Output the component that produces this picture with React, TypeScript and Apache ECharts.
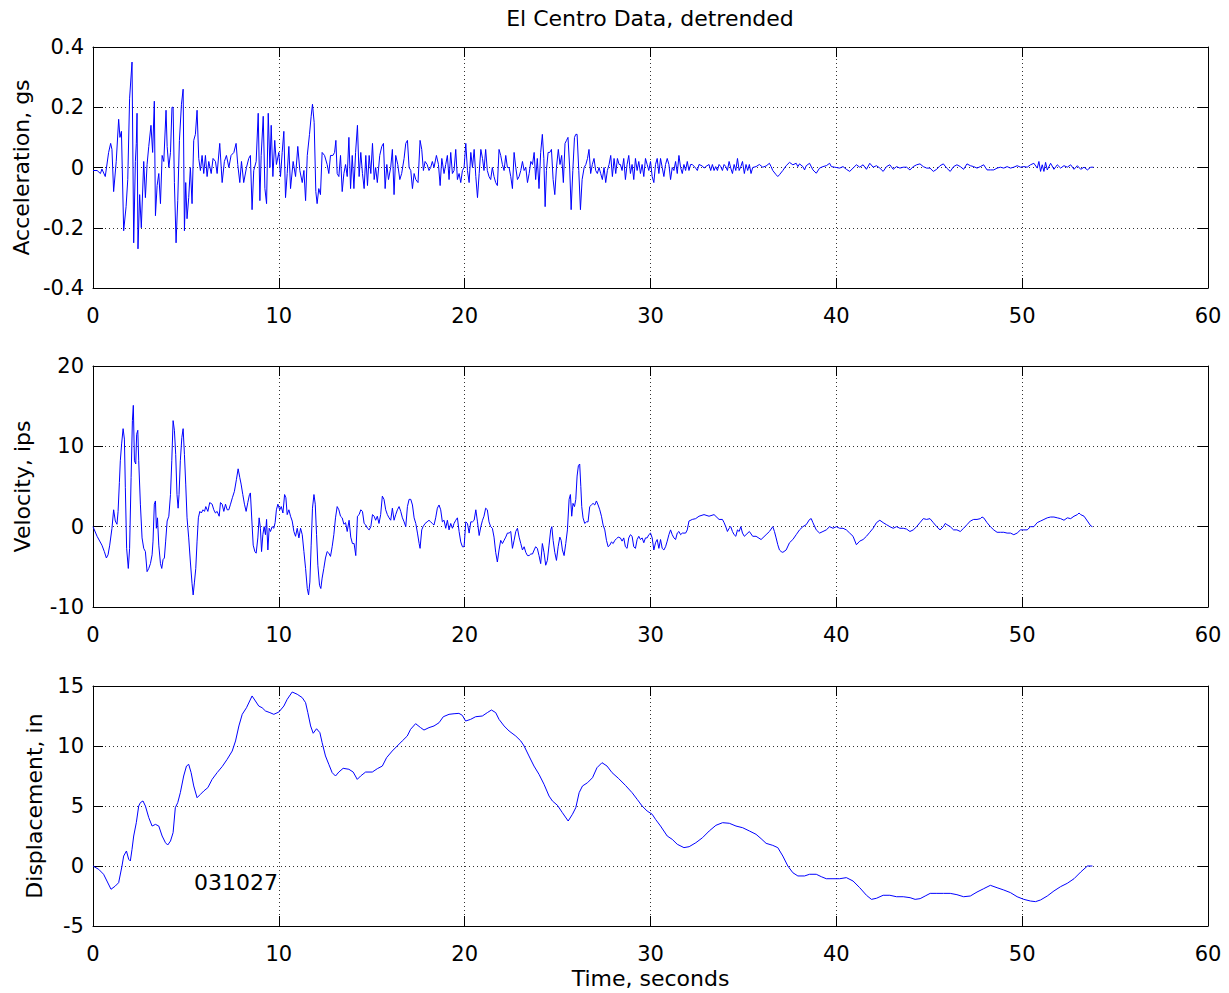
import React, { useEffect, useRef } from "react";
import * as echarts from "echarts";

// El Centro record, detrended. Each point is [time in seconds, value].
const TIME_AXIS = { min: 0, max: 60, interval: 10 };

const accelerationGs: [number, number][] = [
  [0, -0.01], [0.22, -0.01], [0.4, -0.02], [0.48, -0.005], [0.66, -0.03], [0.84, 0.05], [0.95, 0.08], [1.02, 0.06],
  [1.11, -0.08], [1.25, 0.02], [1.38, 0.16], [1.45, 0.1], [1.53, 0.12], [1.65, -0.21], [1.78, -0.13], [1.87, -0.04],
  [1.97, 0.23], [2.1, 0.35], [2.19, -0.25], [2.28, 0.02], [2.33, 0.08], [2.37, 0.18], [2.42, -0.27], [2.51, -0.09],
  [2.6, -0.2], [2.73, 0.02], [2.82, -0.1], [2.91, 0.01], [3.0, 0.07], [3.12, 0.14], [3.21, 0.05], [3.3, 0.22],
  [3.36, -0.16], [3.45, -0.06], [3.54, -0.02], [3.63, -0.12], [3.72, 0.04], [3.81, 0.02], [3.93, 0.19], [3.99, 0.07],
  [4.08, 0.0], [4.17, 0.05], [4.25, 0.2], [4.31, 0.2], [4.38, -0.05], [4.47, -0.25], [4.56, -0.11], [4.65, 0.09],
  [4.76, 0.21], [4.85, 0.26], [4.92, -0.21], [4.99, -0.05], [5.06, -0.17], [5.15, -0.1], [5.24, 0.0], [5.33, -0.12],
  [5.42, 0.09], [5.51, 0.11], [5.6, 0.19], [5.69, 0.03], [5.78, -0.01], [5.87, 0.04], [5.96, -0.02], [6.05, 0.04],
  [6.14, -0.03], [6.23, 0.02], [6.36, -0.02], [6.46, 0.03], [6.59, 0.02], [6.68, -0.02], [6.82, 0.08], [6.95, -0.05],
  [7.07, 0.02], [7.18, 0.04], [7.31, 0.0], [7.43, 0.04], [7.58, 0.05], [7.7, 0.08], [7.79, 0.01], [7.9, -0.05],
  [7.99, 0.02], [8.11, -0.05], [8.26, 0.0], [8.38, 0.03], [8.47, 0.04], [8.56, -0.14], [8.65, -0.01], [8.78, 0.02],
  [8.89, 0.18], [8.98, -0.11], [9.05, 0.04], [9.16, 0.17], [9.25, -0.07], [9.34, -0.12], [9.43, 0.18], [9.52, 0.0],
  [9.59, 0.14], [9.68, -0.03], [9.78, 0.09], [9.87, 0.01], [10.0, 0.05], [10.09, -0.03], [10.18, 0.05], [10.27, 0.12],
  [10.36, -0.1], [10.45, -0.02], [10.54, 0.07], [10.63, -0.07], [10.77, 0.02], [10.9, -0.03], [11.02, 0.07], [11.13, -0.01],
  [11.26, -0.05], [11.35, -0.01], [11.44, -0.11], [11.53, 0.04], [11.65, 0.11], [11.74, 0.17], [11.81, 0.21], [11.9, 0.15],
  [11.99, -0.08], [12.06, -0.12], [12.15, -0.07], [12.24, -0.09], [12.33, 0.05], [12.46, 0.04], [12.6, 0.01], [12.69, -0.02],
  [12.78, 0.04], [12.91, 0.04], [13.0, 0.05], [13.07, 0.09], [13.14, -0.02], [13.23, -0.03], [13.32, 0.04], [13.41, -0.08],
  [13.5, -0.02], [13.59, 0.01], [13.68, -0.03], [13.77, 0.1], [13.86, -0.07], [13.95, 0.04], [14.04, -0.07], [14.13, 0.05],
  [14.23, 0.14], [14.32, -0.03], [14.41, 0.05], [14.5, -0.02], [14.59, -0.07], [14.68, 0.04], [14.77, -0.06], [14.86, 0.04],
  [14.95, -0.02], [15.04, 0.08], [15.13, -0.04], [15.21, 0.0], [15.3, -0.05], [15.43, 0.04], [15.54, 0.07], [15.63, 0.08],
  [15.72, -0.07], [15.81, 0.01], [15.9, -0.04], [16.02, 0.0], [16.11, 0.06], [16.2, -0.09], [16.29, 0.04], [16.4, 0.01],
  [16.51, -0.04], [16.61, -0.02], [16.74, 0.03], [16.83, 0.08], [16.92, 0.09], [17.01, 0.0], [17.1, -0.01], [17.19, -0.07],
  [17.28, -0.02], [17.37, -0.04], [17.49, -0.05], [17.6, 0.09], [17.69, 0.06], [17.78, -0.01], [17.87, 0.02], [17.98, 0.01],
  [18.08, -0.01], [18.17, 0.0], [18.26, 0.02], [18.35, 0.0], [18.48, 0.04], [18.59, 0.01], [18.68, -0.06], [18.77, 0.03],
  [18.89, -0.02], [18.98, 0.01], [19.07, 0.04], [19.16, -0.04], [19.25, 0.05], [19.34, -0.02], [19.43, -0.01], [19.52, 0.06],
  [19.61, -0.04], [19.7, -0.02], [19.79, -0.05], [19.88, -0.01], [19.97, 0.0], [20.06, 0.08], [20.15, -0.01], [20.24, -0.05],
  [20.33, 0.05], [20.42, 0.0], [20.51, 0.06], [20.6, -0.03], [20.69, -0.1], [20.78, -0.02], [20.87, 0.06], [20.96, 0.03],
  [21.04, -0.01], [21.13, 0.06], [21.22, -0.01], [21.31, -0.03], [21.4, -0.04], [21.49, 0.0], [21.58, -0.03], [21.67, -0.05],
  [21.76, -0.06], [21.85, 0.06], [21.94, 0.04], [22.03, 0.01], [22.12, -0.01], [22.21, 0.04], [22.3, 0.0], [22.39, 0.0],
  [22.48, -0.03], [22.57, -0.07], [22.66, 0.05], [22.75, 0.0], [22.84, -0.04], [22.93, -0.03], [23.02, -0.01], [23.11, 0.02],
  [23.2, -0.01], [23.29, 0.0], [23.38, -0.05], [23.47, -0.02], [23.56, 0.02], [23.65, 0.01], [23.74, 0.05], [23.82, -0.04],
  [23.91, 0.03], [24.0, -0.07], [24.09, 0.05], [24.18, 0.11], [24.26, 0.03], [24.33, -0.13], [24.4, -0.01], [24.49, 0.05],
  [24.58, 0.05], [24.67, 0.06], [24.76, -0.04], [24.85, -0.09], [24.94, 0.0], [25.04, 0.06], [25.13, 0.01], [25.22, 0.04],
  [25.31, -0.05], [25.4, 0.08], [25.48, 0.09], [25.56, 0.1], [25.65, 0.0], [25.73, -0.14], [25.82, -0.01], [25.91, 0.1],
  [25.98, 0.11], [26.05, 0.11], [26.14, -0.01], [26.23, -0.14], [26.32, -0.04], [26.43, 0.0], [26.52, 0.01], [26.61, 0.03],
  [26.69, 0.06], [26.78, -0.02], [26.87, 0.01], [26.96, 0.03], [27.05, -0.01], [27.14, -0.02], [27.23, 0.0], [27.32, -0.02],
  [27.41, -0.04], [27.5, 0.0], [27.59, -0.05], [27.68, -0.01], [27.77, 0.01], [27.86, 0.04], [27.95, -0.03], [28.04, 0.03],
  [28.13, -0.02], [28.22, 0.03], [28.31, 0.01], [28.38, 0.01], [28.47, -0.01], [28.56, 0.03], [28.65, -0.04], [28.74, 0.01],
  [28.83, 0.04], [28.92, -0.02], [29.01, 0.01], [29.1, -0.04], [29.19, 0.03], [29.28, -0.01], [29.37, 0.02], [29.46, -0.02],
  [29.55, 0.01], [29.64, -0.03], [29.73, 0.03], [29.82, 0.01], [29.91, -0.01], [30.0, 0.02], [30.09, -0.03], [30.18, -0.05],
  [30.27, 0.01], [30.36, 0.03], [30.45, -0.02], [30.54, 0.03], [30.63, 0.0], [30.72, -0.03], [30.81, 0.01], [30.9, 0.03],
  [30.99, 0.01], [31.08, -0.04], [31.17, 0.0], [31.26, -0.01], [31.35, 0.02], [31.44, -0.02], [31.53, 0.04], [31.62, 0.0],
  [31.71, -0.02], [31.8, 0.01], [31.89, -0.01], [31.98, 0.02], [32.07, -0.01], [32.16, 0.01], [32.25, 0.01], [32.43, -0.002],
  [32.52, -0.01], [32.61, 0.01], [32.79, 0.005], [32.88, -0.002], [32.97, 0.003], [33.15, 0.01], [33.24, -0.01], [33.33, 0.01],
  [33.42, -0.01], [33.51, 0.003], [33.6, -0.01], [33.69, 0.01], [33.78, 0.003], [33.87, -0.01], [33.96, 0.01], [34.05, 0.003],
  [34.14, -0.01], [34.23, 0.02], [34.32, -0.002], [34.41, -0.02], [34.5, 0.01], [34.59, -0.01], [34.68, 0.03], [34.77, -0.01],
  [34.86, 0.003], [34.95, 0.02], [35.05, -0.02], [35.14, 0.01], [35.23, -0.01], [35.32, 0.01], [35.41, -0.02], [35.5, 0.0],
  [35.68, 0.003], [35.86, 0.01], [36.04, 0.001], [36.22, 0.005], [36.4, 0.014], [36.49, 0.003], [36.58, -0.01], [36.76, -0.024],
  [36.85, -0.03], [36.94, -0.024], [37.12, -0.01], [37.3, 0.006], [37.48, 0.017], [37.66, 0.009], [37.84, 0.014], [37.93, 0.003],
  [38.02, 0.012], [38.2, 0.003], [38.29, -0.008], [38.38, 0.006], [38.56, 0.014], [38.74, -0.008], [38.92, -0.019], [39.1, -0.002],
  [39.28, 0.003], [39.46, 0.006], [39.64, 0.014], [39.73, 0.003], [39.91, 0.001], [40.18, -0.002], [40.36, 0.003], [40.54, -0.006],
  [40.72, -0.013], [40.9, -0.002], [41.08, 0.009], [41.26, 0.001], [41.44, 0.009], [41.62, -0.006], [41.8, 0.014], [41.98, 0.001],
  [42.16, 0.006], [42.34, -0.002], [42.52, -0.013], [42.7, 0.003], [42.88, 0.009], [43.06, -0.006], [43.24, 0.003], [43.42, -0.002],
  [43.6, 0.001], [43.78, 0.001], [43.96, -0.008], [44.14, 0.003], [44.32, 0.009], [44.5, 0.012], [44.68, 0.003], [44.86, -0.002],
  [45.04, -0.002], [45.22, -0.013], [45.4, -0.006], [45.58, 0.006], [45.76, 0.012], [45.94, -0.002], [46.13, -0.013], [46.31, 0.003],
  [46.49, 0.009], [46.67, 0.003], [46.85, -0.006], [47.03, 0.012], [47.21, 0.006], [47.39, 0.003], [47.57, -0.002], [47.75, 0.003],
  [47.93, 0.009], [48.11, -0.008], [48.29, -0.008], [48.47, -0.008], [48.65, -0.002], [48.83, 0.001], [49.01, -0.002], [49.19, 0.003],
  [49.37, -0.002], [49.55, 0.001], [49.73, 0.006], [49.91, 0.001], [50.09, 0.003], [50.27, 0.001], [50.45, 0.009], [50.63, 0.014],
  [50.81, -0.002], [50.9, 0.02], [50.99, -0.013], [51.08, 0.009], [51.17, -0.013], [51.26, 0.017], [51.35, -0.008], [51.53, 0.014],
  [51.71, -0.006], [51.89, 0.009], [52.07, -0.002], [52.25, 0.006], [52.43, 0.001], [52.61, 0.009], [52.79, -0.006], [52.97, 0.006],
  [53.15, -0.006], [53.33, 0.001], [53.51, -0.008], [53.69, 0.001], [53.84, 0.001],
];

const velocityIps: [number, number][] = [
  [0, 0], [0.22, -1.2], [0.48, -2.3], [0.61, -3.1], [0.72, -3.9], [0.81, -3.5], [0.9, -2.3], [1.02, -0.2],
  [1.11, 2.1], [1.2, 0.7], [1.29, 0.3], [1.35, 1.9], [1.42, 5.5], [1.47, 8.2], [1.54, 10.3], [1.62, 12.2],
  [1.69, 10.9], [1.74, 4.9], [1.81, -2.7], [1.9, -5.2], [1.97, -2.7], [2.05, 6.1], [2.12, 13.2], [2.17, 15.1],
  [2.23, 8.2], [2.3, 7.8], [2.35, 11.5], [2.41, 12.0], [2.46, 8.2], [2.55, 2.8], [2.64, -1.4], [2.73, -2.7],
  [2.82, -3.1], [2.91, -5.6], [3.0, -5.2], [3.09, -4.6], [3.18, -3.5], [3.23, -1.8], [3.3, 2.8], [3.36, 3.2],
  [3.41, -0.2], [3.47, 1.1], [3.54, -2.3], [3.63, -4.6], [3.7, -5.2], [3.77, -4.1], [3.84, -3.9], [3.91, -1.8],
  [3.99, 0.7], [4.08, 1.3], [4.17, 4.0], [4.24, 8.2], [4.31, 13.2], [4.38, 12.0], [4.45, 9.0], [4.52, 4.0],
  [4.58, 2.3], [4.63, 4.0], [4.7, 8.2], [4.78, 11.1], [4.85, 12.2], [4.92, 9.0], [4.99, 5.3], [5.06, 1.1],
  [5.15, -1.4], [5.24, -4.4], [5.33, -7.1], [5.39, -8.5], [5.46, -6.9], [5.53, -5.2], [5.6, -1.8], [5.67, 1.1],
  [5.75, 1.9], [5.83, 1.7], [5.92, 2.1], [6.0, 1.9], [6.07, 2.5], [6.18, 1.9], [6.28, 3.0], [6.41, 2.8],
  [6.5, 2.1], [6.59, 1.7], [6.68, 1.9], [6.79, 1.3], [6.86, 3.0], [6.95, 2.8], [7.04, 1.9], [7.13, 2.8],
  [7.22, 2.1], [7.31, 2.1], [7.4, 2.8], [7.5, 3.6], [7.61, 4.4], [7.72, 5.9], [7.81, 7.2], [7.9, 6.1],
  [7.97, 5.3], [8.06, 4.0], [8.15, 2.8], [8.24, 1.9], [8.33, 3.0], [8.42, 4.0], [8.47, 4.2], [8.55, 0.7],
  [8.62, -2.3], [8.71, -3.1], [8.78, -3.3], [8.87, -1.4], [8.94, 1.1], [9.01, -0.2], [9.07, -3.1], [9.14, -1.0],
  [9.21, 0.0], [9.28, -1.0], [9.34, 0.9], [9.41, -2.9], [9.48, -0.2], [9.55, -0.6], [9.64, 0.0], [9.73, -0.2],
  [9.8, 0.5], [9.87, 2.1], [9.95, 2.8], [10.05, 2.1], [10.13, 2.5], [10.22, 1.7], [10.31, 4.0], [10.38, 3.6],
  [10.45, 1.5], [10.54, 2.1], [10.63, 1.3], [10.72, 0.7], [10.81, -0.6], [10.9, -1.2], [10.99, -0.2], [11.08, -1.4],
  [11.17, -0.2], [11.26, -1.0], [11.35, -3.1], [11.44, -5.2], [11.53, -7.7], [11.6, -8.5], [11.67, -6.9], [11.74, -2.3],
  [11.81, 2.3], [11.89, 4.0], [11.96, 2.8], [12.03, -1.0], [12.1, -4.8], [12.19, -7.3], [12.26, -7.7], [12.33, -6.4],
  [12.42, -5.2], [12.51, -3.9], [12.6, -3.1], [12.69, -3.3], [12.78, -3.7], [12.87, -2.5], [12.96, -1.0], [13.05, 1.1],
  [13.14, 2.5], [13.23, 2.1], [13.32, 1.3], [13.41, 1.1], [13.5, 0.3], [13.59, 0.5], [13.68, -0.6], [13.78, 0.8],
  [13.87, -1.3], [13.96, -2.1], [14.05, -2.1], [14.14, -3.6], [14.23, 1.3], [14.32, 1.5], [14.41, 2.1], [14.5, 1.9],
  [14.59, 0.4], [14.68, 0.2], [14.77, -0.2], [14.86, -0.4], [14.95, 0.0], [15.04, 1.5], [15.13, 1.3], [15.21, 0.8],
  [15.3, 1.3], [15.39, 0.4], [15.48, 1.5], [15.57, 3.8], [15.66, 3.4], [15.75, 2.1], [15.84, 1.5], [15.93, 1.1],
  [16.02, 0.8], [16.11, 2.3], [16.2, 0.8], [16.29, 1.5], [16.38, 2.1], [16.47, 2.5], [16.56, 1.9], [16.65, 1.1],
  [16.74, 0.6], [16.83, 0.0], [16.92, 2.5], [17.01, 3.4], [17.1, 3.4], [17.19, 2.7], [17.28, 1.1], [17.37, 0.4],
  [17.46, -0.8], [17.55, -2.1], [17.6, -2.7], [17.69, -0.4], [17.76, 0.0], [17.87, 0.4], [17.98, 0.6], [18.08, 0.8],
  [18.17, 0.6], [18.26, 0.4], [18.35, 0.2], [18.44, 1.1], [18.53, 2.3], [18.62, 2.7], [18.71, 2.1], [18.8, 0.6],
  [18.89, 0.8], [18.98, -0.2], [19.07, 0.8], [19.16, -0.4], [19.25, 0.4], [19.34, -0.2], [19.43, 0.4], [19.52, 0.8],
  [19.61, 1.1], [19.7, -0.6], [19.79, -1.9], [19.88, -2.5], [19.97, -2.5], [20.06, 0.6], [20.15, 0.4], [20.24, -0.8],
  [20.33, 0.6], [20.42, 0.6], [20.51, 0.8], [20.6, 2.1], [20.69, 0.6], [20.78, -1.1], [20.87, 0.0], [20.96, 0.8],
  [21.04, 1.3], [21.13, 2.3], [21.22, 2.1], [21.31, 0.6], [21.4, 0.0], [21.49, -0.2], [21.58, -1.3], [21.67, -3.2],
  [21.76, -4.4], [21.85, -2.9], [21.94, -1.7], [22.03, -2.1], [22.12, -1.7], [22.21, -1.3], [22.3, -0.8], [22.39, -0.8],
  [22.48, -0.6], [22.57, -2.7], [22.66, -1.7], [22.75, -0.6], [22.84, -0.2], [22.93, -1.3], [23.02, -2.1], [23.11, -2.9],
  [23.2, -2.5], [23.29, -3.2], [23.38, -3.6], [23.47, -3.6], [23.56, -3.4], [23.65, -3.4], [23.74, -2.9], [23.82, -2.5],
  [23.91, -2.7], [24.0, -3.6], [24.09, -4.6], [24.18, -2.1], [24.27, -3.2], [24.36, -4.8], [24.45, -4.2], [24.54, -2.3],
  [24.63, -0.4], [24.69, 0.0], [24.76, -1.7], [24.85, -3.2], [24.94, -4.2], [25.03, -2.5], [25.12, -1.3], [25.19, -1.7],
  [25.26, -2.9], [25.35, -3.6], [25.44, -2.1], [25.53, -0.4], [25.62, 3.4], [25.69, 4.0], [25.76, 1.3], [25.83, 2.9],
  [25.91, 2.5], [25.98, 3.4], [26.05, 6.3], [26.12, 7.6], [26.19, 7.8], [26.25, 5.0], [26.3, 2.5], [26.37, 1.1],
  [26.46, 0.4], [26.55, 0.6], [26.64, 0.6], [26.73, 2.5], [26.82, 2.7], [26.91, 2.9], [27.0, 2.7], [27.09, 3.2],
  [27.18, 2.7], [27.27, 2.1], [27.36, 1.3], [27.45, 0.2], [27.54, -0.4], [27.63, -1.7], [27.72, -2.5], [27.81, -2.3],
  [27.9, -1.9], [27.99, -2.1], [28.08, -1.7], [28.17, -1.5], [28.26, -1.3], [28.38, -1.4], [28.47, -1.8], [28.56, -1.4],
  [28.65, -2.5], [28.74, -2.7], [28.83, -1.4], [28.92, -1.0], [29.01, -1.2], [29.1, -2.5], [29.19, -2.7], [29.28, -1.6],
  [29.37, -1.2], [29.46, -1.6], [29.55, -1.4], [29.64, -2.0], [29.73, -1.4], [29.82, -1.4], [29.91, -1.0], [30.0, -0.8],
  [30.09, -1.4], [30.18, -2.9], [30.27, -2.0], [30.36, -1.6], [30.45, -2.7], [30.54, -1.6], [30.63, -2.7], [30.72, -2.9],
  [30.81, -2.5], [30.9, -1.8], [30.99, -1.0], [31.08, -0.4], [31.17, -1.0], [31.26, -1.4], [31.35, -1.6], [31.44, -0.8],
  [31.53, -0.6], [31.62, -1.0], [31.71, -0.8], [31.89, -0.8], [31.98, -0.4], [32.07, 0.7], [32.25, 0.9], [32.43, 1.0],
  [32.61, 1.3], [32.88, 1.5], [33.15, 1.3], [33.42, 1.5], [33.69, 0.9], [33.87, 0.9], [33.96, 0.5], [34.05, 0.0],
  [34.14, -0.6], [34.23, -0.2], [34.32, 0.0], [34.41, -0.6], [34.5, -1.0], [34.59, -1.2], [34.68, -0.4], [34.77, -0.6],
  [34.86, 0.0], [34.95, -0.8], [35.05, -1.2], [35.14, -1.0], [35.32, -0.6], [35.5, -1.2], [35.68, -1.2], [35.95, -1.6],
  [36.22, -1.0], [36.4, -0.6], [36.58, 0.0], [36.67, -0.6], [36.76, -1.4], [36.85, -2.25], [36.94, -2.9], [37.03, -3.1],
  [37.12, -3.2], [37.3, -2.9], [37.48, -2.0], [37.66, -1.6], [37.84, -1.0], [38.02, -0.4], [38.2, 0.0], [38.38, 0.25],
  [38.56, 0.9], [38.65, 1.0], [38.74, 0.5], [38.92, -0.4], [39.1, -0.8], [39.28, -0.6], [39.46, -0.4], [39.64, 0.0],
  [39.82, -0.2], [40.0, 0.0], [40.18, -0.2], [40.36, -0.2], [40.54, -0.4], [40.72, -0.8], [40.9, -1.2], [41.08, -2.25],
  [41.26, -1.8], [41.44, -1.6], [41.62, -1.2], [41.8, -0.7], [41.98, -0.2], [42.16, 0.5], [42.34, 0.8], [42.52, 0.5],
  [42.7, 0.25], [42.88, 0.0], [43.06, -0.2], [43.24, 0.0], [43.42, -0.2], [43.6, -0.2], [43.78, -0.3], [43.96, -0.6],
  [44.14, -0.4], [44.32, 0.0], [44.5, 0.5], [44.68, 1.0], [44.86, 0.9], [45.04, 1.0], [45.22, 0.5], [45.4, 0.0],
  [45.58, -0.4], [45.76, 0.0], [45.86, 0.4], [45.95, 0.25], [46.13, 0.0], [46.31, -0.4], [46.49, -0.4], [46.67, -0.6],
  [46.85, -0.2], [47.03, 0.25], [47.21, 0.7], [47.39, 0.9], [47.57, 0.9], [47.75, 1.0], [47.84, 1.2], [47.93, 1.1],
  [48.11, 0.5], [48.29, 0.0], [48.47, -0.4], [48.65, -0.7], [48.83, -0.7], [49.01, -0.7], [49.19, -0.8], [49.37, -0.8],
  [49.55, -1.0], [49.73, -0.8], [49.91, -0.4], [50.09, -0.4], [50.27, -0.4], [50.45, 0.0], [50.63, 0.0], [50.81, 0.5],
  [50.99, 0.7], [51.17, 0.9], [51.35, 1.1], [51.53, 1.2], [51.71, 1.2], [51.89, 1.1], [52.07, 1.0], [52.25, 0.8],
  [52.43, 1.1], [52.61, 1.0], [52.79, 1.3], [52.97, 1.5], [53.06, 1.7], [53.15, 1.5], [53.33, 1.3], [53.51, 0.7],
  [53.69, 0.1], [53.78, 0.0],
];

const displacementIn: [number, number][] = [
  [0, 0], [0.31, -0.28], [0.57, -0.69], [0.75, -1.25], [0.97, -1.94], [1.2, -1.67], [1.38, -1.39], [1.56, 0],
  [1.65, 0.83], [1.8, 1.25], [1.92, 0.56], [2.01, 0.42], [2.1, 1.39], [2.19, 2.5], [2.33, 3.61], [2.46, 5.0],
  [2.55, 5.28], [2.69, 5.42], [2.82, 5.0], [3.0, 4.03], [3.18, 3.33], [3.36, 3.47], [3.54, 3.33], [3.72, 2.5],
  [3.9, 1.94], [4.02, 1.75], [4.17, 2.08], [4.31, 2.78], [4.43, 4.86], [4.56, 5.28], [4.7, 6.11], [4.88, 7.5],
  [5.03, 8.33], [5.15, 8.47], [5.28, 7.78], [5.42, 6.67], [5.6, 5.69], [5.78, 5.97], [5.96, 6.25], [6.18, 6.53],
  [6.41, 7.22], [6.68, 7.78], [6.95, 8.28], [7.22, 8.89], [7.49, 9.58], [7.67, 10.42], [7.85, 11.67], [8.03, 12.64],
  [8.26, 13.19], [8.56, 14.17], [8.74, 13.75], [8.92, 13.33], [9.1, 13.19], [9.28, 12.92], [9.52, 12.78], [9.73, 12.64],
  [10.0, 12.83], [10.27, 13.33], [10.45, 13.89], [10.72, 14.5], [10.99, 14.31], [11.26, 14.03], [11.44, 13.61], [11.56, 12.78],
  [11.71, 11.67], [11.85, 11.06], [12.03, 11.44], [12.21, 11.11], [12.33, 10.28], [12.51, 9.17], [12.69, 8.47], [12.87, 7.78],
  [13.05, 7.5], [13.23, 7.83], [13.46, 8.14], [13.77, 8.06], [14.0, 7.83], [14.22, 7.22], [14.4, 7.5], [14.67, 7.83],
  [15.03, 7.83], [15.3, 8.11], [15.57, 8.33], [15.8, 9.03], [16.1, 9.58], [16.37, 10.0], [16.64, 10.42], [16.91, 10.83],
  [17.09, 11.39], [17.36, 11.86], [17.63, 11.53], [17.81, 11.33], [18.08, 11.53], [18.35, 11.67], [18.62, 11.94], [18.85, 12.44],
  [19.16, 12.64], [19.43, 12.69], [19.69, 12.72], [19.87, 12.56], [20.05, 12.08], [20.32, 12.22], [20.59, 12.44], [20.95, 12.5],
  [21.22, 12.78], [21.44, 13.0], [21.67, 12.78], [21.85, 12.22], [22.12, 11.67], [22.39, 11.25], [22.75, 10.83], [23.02, 10.42],
  [23.2, 10.0], [23.46, 9.17], [23.73, 8.33], [24.0, 7.64], [24.27, 6.81], [24.54, 5.83], [24.72, 5.42], [24.99, 5.06],
  [25.26, 4.44], [25.57, 3.75], [25.8, 4.31], [25.98, 4.86], [26.16, 6.11], [26.34, 6.67], [26.61, 6.94], [26.88, 7.36],
  [27.12, 8.19], [27.39, 8.61], [27.66, 8.33], [27.93, 7.78], [28.29, 7.28], [28.65, 6.72], [29.01, 6.11], [29.28, 5.56],
  [29.55, 5.0], [29.82, 4.58], [30.09, 4.31], [30.27, 3.89], [30.54, 3.33], [30.9, 2.5], [31.17, 2.22], [31.44, 1.81],
  [31.8, 1.53], [32.08, 1.61], [32.44, 1.94], [32.8, 2.36], [33.16, 2.92], [33.52, 3.39], [33.88, 3.61], [34.24, 3.56],
  [34.6, 3.33], [34.96, 3.19], [35.32, 2.92], [35.68, 2.64], [35.95, 2.28], [36.22, 1.89], [36.58, 1.72], [36.85, 1.53],
  [37.12, 0.83], [37.39, 0], [37.66, -0.56], [37.93, -0.83], [38.29, -0.83], [38.56, -0.69], [38.92, -0.69], [39.19, -0.89],
  [39.46, -1.06], [39.82, -1.06], [40.18, -1.06], [40.54, -0.97], [40.9, -1.25], [41.26, -1.81], [41.62, -2.44], [41.89, -2.78],
  [42.16, -2.69], [42.52, -2.44], [42.88, -2.44], [43.24, -2.56], [43.6, -2.56], [43.97, -2.64], [44.24, -2.78], [44.51, -2.72],
  [44.78, -2.5], [45.05, -2.28], [45.41, -2.28], [45.77, -2.28], [46.13, -2.28], [46.49, -2.39], [46.85, -2.56], [47.21, -2.5],
  [47.57, -2.17], [47.93, -1.89], [48.29, -1.61], [48.65, -1.81], [49.01, -2.0], [49.37, -2.22], [49.73, -2.56], [50.09, -2.78],
  [50.45, -2.92], [50.72, -2.97], [50.99, -2.83], [51.35, -2.5], [51.71, -2.08], [52.07, -1.72], [52.43, -1.44], [52.79, -1.06],
  [53.15, -0.5], [53.51, 0], [53.78, 0],
];

const CHART_TITLE = "El Centro Data, detrended";
const TIME_LABEL = "Time, seconds";
const RECORD_TAG = "031027";

const panels = [
  { label: "Acceleration, gs", data: accelerationGs, min: -0.4, max: 0.4, interval: 0.2, top: 47, height: 241, nameGap: 60 },
  { label: "Velocity, ips", data: velocityIps, min: -10, max: 20, interval: 10, top: 366, height: 241, nameGap: 60 },
  { label: "Displacement, in", data: displacementIn, min: -5, max: 15, interval: 5, top: 686, height: 240, nameGap: 48 },
];

const FONT = '"DejaVu Sans", "Liberation Sans", sans-serif';
const INK = "#000";
const TRACE = "#0000ff";

const frameLine = { show: true, onZero: false, lineStyle: { color: INK, width: 1 } };
const innerTick = { show: true, inside: true, length: 10, lineStyle: { color: INK, width: 1 } };
const dottedGrid = { show: true, lineStyle: { color: "#333", width: 1, type: [1, 3] } };
const labelText = { color: INK, fontSize: 21, fontFamily: FONT };

function buildOption() {
  const grid = panels.map((p) => ({ left: 93, right: 21, top: p.top, height: p.height, containLabel: false }));
  const xAxis: any[] = [];
  const yAxis: any[] = [];
  const series: any[] = [];

  panels.forEach((p, i) => {
    const last = i === panels.length - 1;
    xAxis.push({
      type: "value", gridIndex: i, position: "bottom", ...TIME_AXIS,
      axisLine: frameLine, axisTick: innerTick,
      axisLabel: { ...labelText, margin: 17 },
      splitLine: dottedGrid,
      name: last ? TIME_LABEL : "", nameLocation: "middle", nameGap: 41,
      nameTextStyle: { color: INK, fontSize: 22, fontFamily: FONT },
    });
    xAxis.push({
      type: "value", gridIndex: i, position: "top", ...TIME_AXIS,
      axisLine: frameLine, axisTick: innerTick,
      axisLabel: { show: false }, splitLine: { show: false },
    });
    yAxis.push({
      type: "value", gridIndex: i, position: "left", min: p.min, max: p.max, interval: p.interval,
      axisLine: frameLine, axisTick: innerTick,
      axisLabel: { ...labelText, margin: 9 },
      splitLine: dottedGrid,
      name: p.label, nameLocation: "middle", nameGap: p.nameGap, nameRotate: 90,
      nameTextStyle: { color: INK, fontSize: 22, fontFamily: FONT },
    });
    yAxis.push({
      type: "value", gridIndex: i, position: "right", min: p.min, max: p.max, interval: p.interval,
      axisLine: frameLine, axisTick: innerTick,
      axisLabel: { show: false }, splitLine: { show: false },
    });
    series.push({
      type: "line", xAxisIndex: i * 2, yAxisIndex: i * 2, data: p.data,
      showSymbol: false, symbol: "none", silent: true, clip: true,
      lineStyle: { color: TRACE, width: 1 },
    });
  });

  return {
    animation: false,
    backgroundColor: "#fff",
    grid, xAxis, yAxis, series,
    graphic: [
      {
        type: "text", x: 650, y: 7,
        style: { text: CHART_TITLE, fill: INK, fontSize: 22, fontFamily: FONT, align: "center", verticalAlign: "top" },
      },
      {
        type: "text", x: 194, y: 871,
        style: { text: RECORD_TAG, fill: INK, fontSize: 22, fontFamily: FONT, align: "left", verticalAlign: "top" },
      },
    ],
  };
}

export default function App() {
  const ref = useRef<HTMLDivElement>(null);
  useEffect(() => {
    if (!ref.current) return;
    const chart = echarts.init(ref.current, undefined, { renderer: "svg" });
    chart.setOption(buildOption() as any);
    return () => chart.dispose();
  }, []);
  return <div ref={ref} style={{ position: "absolute", left: 0, top: 0, width: 1229, height: 993 }} />;
}
